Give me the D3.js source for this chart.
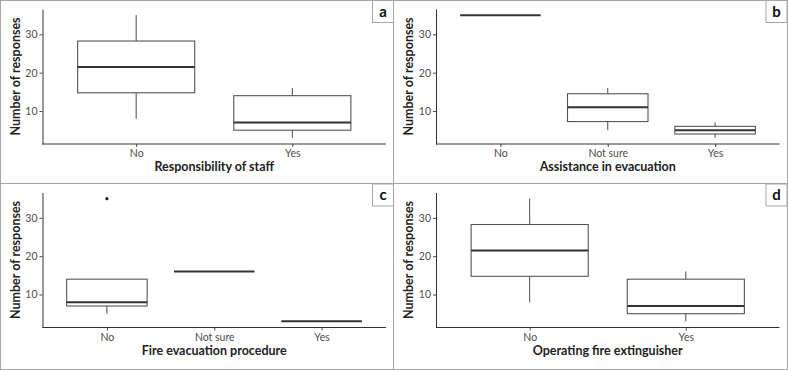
<!DOCTYPE html>
<html>
<head>
<meta charset="utf-8">
<script src="https://cdn.jsdelivr.net/npm/d3@7"></script>
<style>
  html, body { margin: 0; padding: 0; background: #fff; }
  svg { display: block; }
  text { font-family: Lato, "Open Sans", "DejaVu Sans", sans-serif; }
</style>
</head>
<body>
<svg id="chart" width="788" height="370"></svg>
<script>
// ---- data (five-number summaries: [low whisker, Q1, median, Q3, high whisker]) ----
const panelLetters = ["a", "b", "c", "d"];
const xTitles = ["Responsibility of staff", "Assistance in evacuation", "Fire evacuation procedure", "Operating fire extinguisher"];
const yTitle = "Number of responses";
const yTicks = [10, 20, 30];

const categoriesA = ["No", "Yes"];
const boxesA = [[8, 14.75, 21.5, 28.25, 35], [3, 5, 7, 14, 16]];
const outliersA = [];

const categoriesB = ["No", "Not sure", "Yes"];
const boxesB = [[35, 35, 35, 35, 35], [5, 7.25, 11, 14.5, 16], [3, 4, 5, 6, 7]];
const outliersB = [];

const categoriesC = ["No", "Not sure", "Yes"];
const boxesC = [[5, 7, 8, 14, 14], [16, 16, 16, 16, 16], [3, 3, 3, 3, 3]];
const outliersC = [["No", 35]];

const categoriesD = ["No", "Yes"];
const boxesD = [[8, 14.75, 21.5, 28.25, 35], [3, 5, 7, 14, 16]];
const outliersD = [];

const panels = [
  { cats: categoriesA, boxes: boxesA, outliers: outliersA },
  { cats: categoriesB, boxes: boxesB, outliers: outliersB },
  { cats: categoriesC, boxes: boxesC, outliers: outliersC },
  { cats: categoriesD, boxes: boxesD, outliers: outliersD }
];

// ---- layout ----
const W = 788, H = 370;
const origins = [[0, 0], [393.5, 0], [0, 183.5], [393.5, 183.5]];
const plotL = 42.5, plotR = 386, plotT = 9, plotB = 144;
const borderColor = "#a6a6a6";
const axisColor = "#333333";
const tickTextColor = "#4d4d4d";

const svg = d3.select("#chart");

svg.append("rect").attr("x", 0.5).attr("y", 0.5).attr("width", W - 1).attr("height", H - 1)
  .attr("fill", "#fff").attr("stroke", borderColor).attr("stroke-width", 1);

panels.forEach((p, i) => {
  const [ox, oy] = origins[i];
  const g = svg.append("g").attr("transform", `translate(${ox},${oy})`);

  const allVals = p.boxes.flat().concat(p.outliers.map(o => o[1]));
  const [mn, mx] = d3.extent(allVals);
  const pad = (mx - mn) * 0.05;
  const y = d3.scaleLinear().domain([mn - pad, mx + pad]).range([plotB, plotT]);
  const x = d3.scalePoint().domain(p.cats).range([plotL, plotR]).padding(0.6);
  const bw = x.step() * 0.75;

  // boxes
  p.boxes.forEach((b, j) => {
    const cx = x(p.cats[j]);
    const [lo, q1, med, q3, hi] = b;
    // whiskers
    g.append("line").attr("x1", cx).attr("x2", cx).attr("y1", y(hi)).attr("y2", y(q3))
      .attr("stroke", axisColor).attr("stroke-width", 0.9);
    g.append("line").attr("x1", cx).attr("x2", cx).attr("y1", y(q1)).attr("y2", y(lo))
      .attr("stroke", axisColor).attr("stroke-width", 0.9);
    // box
    g.append("rect").attr("x", cx - bw / 2).attr("width", bw)
      .attr("y", y(q3)).attr("height", Math.max(0, y(q1) - y(q3)))
      .attr("fill", "#fff").attr("stroke", "#555").attr("stroke-width", 1.1);
    // median
    g.append("line").attr("x1", cx - bw / 2).attr("x2", cx + bw / 2)
      .attr("y1", y(med)).attr("y2", y(med))
      .attr("stroke", "#333").attr("stroke-width", 2);
  });

  // outliers
  p.outliers.forEach(o => {
    g.append("circle").attr("cx", x(o[0])).attr("cy", y(o[1])).attr("r", 1.6).attr("fill", "#222");
  });

  // axes
  const yAxis = d3.axisLeft(y).tickValues(yTicks).tickSize(3).tickSizeOuter(0).tickPadding(2);
  const ya = g.append("g").attr("transform", `translate(${plotL},0)`).call(yAxis);
  const xAxis = d3.axisBottom(x).tickSize(3).tickSizeOuter(0).tickPadding(3);
  const xa = g.append("g").attr("transform", `translate(0,${plotB})`).call(xAxis);
  [ya, xa].forEach(a => {
    a.select(".domain").attr("stroke", axisColor).attr("stroke-width", 1);
    a.selectAll(".tick line").attr("stroke", axisColor).attr("stroke-width", 0.9);
    a.selectAll(".tick text").attr("fill", tickTextColor).attr("font-size", 10.5)
      .attr("font-family", "Lato, 'Open Sans', sans-serif");
  });
  // the x domain line spans the whole panel
  xa.select(".domain").attr("d", `M${plotL},0H${plotR}`);

  // titles
  g.append("text").attr("x", (plotL + plotR) / 2).attr("y", 171)
    .attr("text-anchor", "middle").attr("font-weight", 700).attr("font-size", 12.5)
    .attr("fill", "#222").text(xTitles[i]);
  g.append("text").attr("transform", `translate(19.5,${(plotT + plotB) / 2}) rotate(-90)`)
    .attr("text-anchor", "middle").attr("font-weight", 700).attr("font-size", 12.5)
    .attr("fill", "#222").text(yTitle);

  // panel letter box
  g.append("rect").attr("x", 372.5).attr("y", 0.5).attr("width", 21).attr("height", 22)
    .attr("fill", "#fff").attr("stroke", borderColor).attr("stroke-width", 1);
  g.append("text").attr("x", 383).attr("y", 16.5).attr("text-anchor", "middle")
    .attr("font-weight", 700).attr("font-size", 15).attr("fill", "#111").text(panelLetters[i]);
});

// panel dividers
svg.append("line").attr("x1", 393.5).attr("x2", 393.5).attr("y1", 0).attr("y2", H)
  .attr("stroke", borderColor).attr("stroke-width", 1);
svg.append("line").attr("x1", 0).attr("x2", W).attr("y1", 183.5).attr("y2", 183.5)
  .attr("stroke", borderColor).attr("stroke-width", 1);
</script>
</body>
</html>
